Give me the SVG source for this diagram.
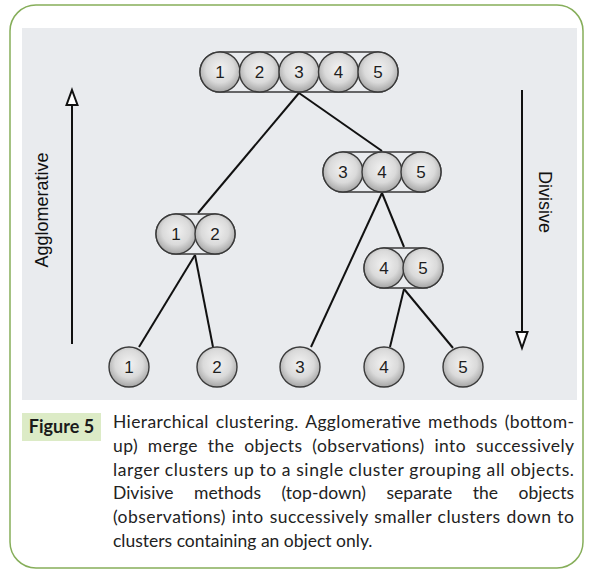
<svg xmlns="http://www.w3.org/2000/svg" width="589" height="574" viewBox="0 0 589 574">
<defs>
<radialGradient id="ball" cx="50%" cy="42%" r="58%">
<stop offset="0" stop-color="#f2f2f2"/>
<stop offset="0.6" stop-color="#dadada"/>
<stop offset="1" stop-color="#a5a5a5"/>
</radialGradient>
</defs>
<style>
.ball{fill:url(#ball);stroke:#3a3a3a;stroke-width:1.4}
.cap{fill:none;stroke:#3a3a3a;stroke-width:1.4}
.num{font-family:"Liberation Sans",Arial,sans-serif;font-size:17px;fill:#1e1e1e;text-anchor:middle}
.edge{stroke:#111;stroke-width:2;fill:none}
.side{font-family:"Liberation Sans",Arial,sans-serif;font-size:18px;fill:#111;text-anchor:middle}
.cap-t{font-family:Lato,"Open Sans",sans-serif;font-size:17.5px;fill:#222}
</style>
<rect x="10" y="5" width="573" height="563" rx="26" fill="#fff" stroke="#86ae5a" stroke-width="1.5"/>
<rect x="22" y="28" width="555" height="372" fill="#e9ebee"/>

<g id="connectors">
<line class="edge" x1="299" y1="93" x2="198" y2="213"/>
<line class="edge" x1="299" y1="93" x2="382" y2="151"/>
<line class="edge" x1="195" y1="255" x2="139" y2="347"/>
<line class="edge" x1="195" y1="255" x2="213" y2="347"/>
<line class="edge" x1="382" y1="193" x2="311" y2="347"/>
<line class="edge" x1="382" y1="193" x2="404" y2="247"/>
<line class="edge" x1="404" y1="289" x2="390" y2="347"/>
<line class="edge" x1="404" y1="289" x2="453" y2="348"/>
</g>

<g id="agglomerative">
<line x1="72" y1="104" x2="72" y2="344" stroke="#111" stroke-width="2"/>
<polygon points="72,90 77.5,105 66.5,105" fill="#fff" stroke="#111" stroke-width="2"/>
<text class="side" transform="translate(48,210) rotate(-90)">Agglomerative</text>
</g>
<g id="divisive">
<line x1="522" y1="90" x2="522" y2="332" stroke="#111" stroke-width="2"/>
<polygon points="522,348 516.5,332 527.5,332" fill="#fff" stroke="#111" stroke-width="2"/>
<text class="side" transform="translate(539,202) rotate(90)">Divisive</text>
</g>

<g id="c12345">
<rect class="cap" x="200" y="52" width="198" height="40" rx="20"/>
<circle class="ball" cx="220" cy="72" r="20"/>
<circle class="ball" cx="259.5" cy="72" r="20"/>
<circle class="ball" cx="299" cy="72" r="20"/>
<circle class="ball" cx="338.5" cy="72" r="20"/>
<circle class="ball" cx="378" cy="72" r="20"/>
<text class="num" x="220" y="78">1</text>
<text class="num" x="259.5" y="78">2</text>
<text class="num" x="299" y="78">3</text>
<text class="num" x="338.5" y="78">4</text>
<text class="num" x="378" y="78">5</text>
</g>

<g id="c345">
<rect class="cap" x="323" y="152" width="118" height="40" rx="20"/>
<circle class="ball" cx="343" cy="172" r="20"/>
<circle class="ball" cx="382" cy="172" r="20"/>
<circle class="ball" cx="421" cy="172" r="20"/>
<text class="num" x="343" y="178">3</text>
<text class="num" x="382" y="178">4</text>
<text class="num" x="421" y="178">5</text>
</g>

<g id="c12">
<rect class="cap" x="156" y="214" width="79" height="40" rx="20"/>
<circle class="ball" cx="176" cy="234" r="20"/>
<circle class="ball" cx="215" cy="234" r="20"/>
<text class="num" x="176" y="240">1</text>
<text class="num" x="215" y="240">2</text>
</g>

<g id="c45">
<rect class="cap" x="364" y="248" width="79" height="40" rx="20"/>
<circle class="ball" cx="384" cy="268" r="20"/>
<circle class="ball" cx="423" cy="268" r="20"/>
<text class="num" x="384" y="274">4</text>
<text class="num" x="423" y="274">5</text>
</g>

<g id="o1"><circle class="ball" cx="129" cy="367" r="20"/><text class="num" x="129" y="373">1</text></g>
<g id="o2"><circle class="ball" cx="217" cy="367" r="20"/><text class="num" x="217" y="373">2</text></g>
<g id="o3"><circle class="ball" cx="300" cy="367" r="20"/><text class="num" x="300" y="373">3</text></g>
<g id="o4"><circle class="ball" cx="384" cy="367" r="20"/><text class="num" x="384" y="373">4</text></g>
<g id="o5"><circle class="ball" cx="463" cy="367" r="20"/><text class="num" x="463" y="373">5</text></g>

<g id="caption">
<rect x="22" y="413" width="79" height="28" fill="#dcebc6"/>
<text x="61.5" y="433" font-family="Lato,'Open Sans',sans-serif" font-size="18" font-weight="bold" fill="#1a1a1a" text-anchor="middle">Figure 5</text>
<text class="cap-t" x="113" y="428" textLength="461" lengthAdjust="spacing" word-spacing="2">Hierarchical clustering. Agglomerative methods (bottom-</text>
<text class="cap-t" x="113" y="452" textLength="461" lengthAdjust="spacing" word-spacing="5">up) merge the objects (observations) into successively</text>
<text class="cap-t" x="113" y="476" textLength="461" lengthAdjust="spacing">larger clusters up to a single cluster grouping all objects.</text>
<text class="cap-t" x="113" y="499" textLength="461" lengthAdjust="spacing" word-spacing="16">Divisive methods (top-down) separate the objects</text>
<text class="cap-t" x="113" y="523" textLength="461" lengthAdjust="spacing" word-spacing="1">(observations) into successively smaller clusters down to</text>
<text class="cap-t" x="113" y="547">clusters containing an object only.</text>
</g>
</svg>
